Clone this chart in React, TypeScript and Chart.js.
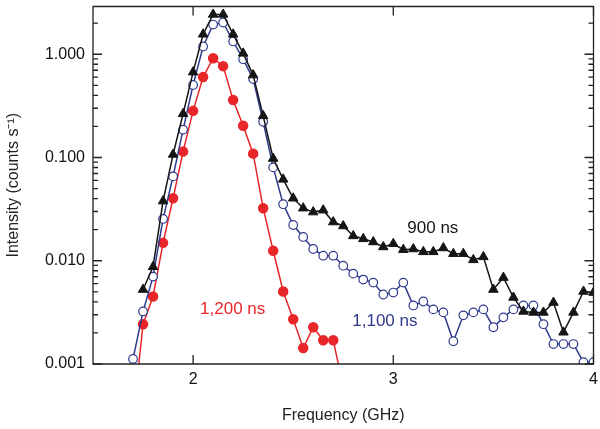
import React, { useEffect, useRef } from "react";
import { Chart, registerables } from "chart.js";
Chart.register(...registerables);

const freq = [1.70,1.75,1.80,1.85,1.90,1.95,2.00,2.05,2.10,2.15,2.20,2.25,2.30,2.35,2.40,2.45,2.50,2.55,2.60,2.65,2.70,2.75,2.80,2.85,2.90,2.95,3.00,3.05,3.10,3.15,3.20,3.25,3.30,3.35,3.40,3.45,3.50,3.55,3.60,3.65,3.70,3.75,3.80,3.85,3.90,3.95,4.00];
const ns900 = [null,0.00526,0.00875,0.0378,0.107,0.265,0.671,1.56,2.43,2.43,1.56,1.02,0.628,0.253,0.0977,0.0614,0.0403,0.0323,0.0296,0.0309,0.0237,0.0217,0.0174,0.0163,0.0152,0.0136,0.0146,0.0128,0.0130,0.0122,0.0122,0.0133,0.0117,0.0117,0.0102,0.0109,0.00526,0.00687,0.00441,0.00323,0.00316,0.00316,0.00394,0.00203,0.00316,0.00504,0.00492];
const ns1100 = [0.00112,0.00323,0.00702,0.0254,0.0656,0.186,0.504,1.19,1.94,2.03,1.33,0.895,0.575,0.222,0.0802,0.0353,0.0222,0.0170,0.0130,0.0112,0.0112,0.00895,0.00750,0.00657,0.00614,0.00471,0.00492,0.00614,0.00369,0.00403,0.00338,0.00316,0.00166,0.00296,0.00316,0.00338,0.00227,0.00283,0.00338,0.00369,0.00369,0.00243,0.00156,0.00156,0.00156,0.00104,0.00104];
const ns1200 = [0.0003,0.00243,0.00451,0.0149,0.0403,0.114,0.283,0.601,0.915,0.767,0.361,0.203,0.109,0.0323,0.0125,0.00504,0.00271,0.00143,0.00227,0.00170,0.00170,0.0006];
const yMajor = [0.001, 0.01, 0.1, 1];
const yLabels = ["0.001", "0.010", "0.100", "1.000"];
const xMajor = [2, 3, 4];

const FONT = "'Liberation Sans', Arial, sans-serif";
const BLACK = "#151515", BLUE = "#2e3a8c", RED = "#e8262a";

const pts = (vals: (number | null)[]) =>
  vals.map((v, i) => ({ x: freq[i], y: v })).filter((p) => p.y !== null);

export default function App() {
  const ref = useRef<HTMLCanvasElement>(null);
  useEffect(() => {
    document.body.style.margin = "0";
    const ticksPlugin = {
      id: "ticksIn",
      afterDatasetsDraw(chart: any) {
        const { ctx, chartArea: a, scales } = chart;
        const y = scales.y, x = scales.x;
        ctx.save();
        ctx.setLineDash([]);
        ctx.globalAlpha = 1;
        ctx.strokeStyle = "#222";
        ctx.lineWidth = 1.3;
        ctx.beginPath();
        ctx.rect(a.left, a.top, a.right - a.left, a.bottom - a.top);
        ctx.stroke();
        ctx.beginPath();
        for (let d = -3; d <= 0; d++) {
          for (let m = 1; m <= 9; m++) {
            const v = m * Math.pow(10, d);
            if (v > y.max) continue;
            const py = y.getPixelForValue(v);
            const L = m === 1 ? 9 : 5;
            ctx.moveTo(a.left, py); ctx.lineTo(a.left + L, py);
            ctx.moveTo(a.right, py); ctx.lineTo(a.right - L, py);
          }
        }
        for (const v of xMajor) {
          const px = x.getPixelForValue(v);
          ctx.moveTo(px, a.bottom); ctx.lineTo(px, a.bottom - 9);
          ctx.moveTo(px, a.top); ctx.lineTo(px, a.top + 9);
        }
        ctx.stroke();
        ctx.font = `17px ${FONT}`;
        ctx.textBaseline = "middle";
        ctx.textAlign = "left";
        const lab = (t: string, c: string, fx: number, fy: number) => {
          ctx.fillStyle = c;
          ctx.fillText(t, x.getPixelForValue(fx), y.getPixelForValue(fy));
        };
        lab("900 ns", BLACK, 3.07, 0.0205);
        lab("1,100 ns", BLUE, 2.795, 0.00259);
        lab("1,200 ns", RED, 2.035, 0.0034);
        ctx.restore();
      },
    };
    const chart = new Chart(ref.current!, {
      type: "line",
      data: {
        datasets: [
          { data: pts(ns900) as any, borderColor: BLACK, backgroundColor: BLACK, pointStyle: "triangle", pointRadius: 5.5, borderWidth: 1.5, pointBorderWidth: 1 },
          { data: pts(ns1100) as any, borderColor: BLUE, backgroundColor: "#fff", pointStyle: "circle", pointRadius: 4.3, borderWidth: 1.5, pointBorderWidth: 1.2 },
          { data: pts(ns1200) as any, borderColor: RED, backgroundColor: RED, pointStyle: "circle", pointRadius: 4.5, borderWidth: 1.5 },
        ],
      },
      options: {
        animation: false,
        responsive: false,
        layout: { padding: { top: 5, right: 5, left: 0, bottom: 0 } },
        plugins: { legend: { display: false }, tooltip: { enabled: false } },
        scales: {
          x: {
            type: "linear", min: 1.5, max: 4.0,
            afterBuildTicks: (s: any) => { s.ticks = xMajor.map((v) => ({ value: v })); },
            afterFit: (s: any) => { s.height = 65; s.paddingLeft = 0; s.paddingRight = 0; },
            grid: { display: false, drawTicks: false },
            border: { display: false },
            ticks: { color: "#111", font: { size: 16, family: FONT }, padding: 6, callback: (v: any) => String(v) },
            title: { display: true, text: "Frequency (GHz)", color: "#222", font: { size: 16, family: FONT }, padding: { top: 2 } },
          },
          y: {
            type: "logarithmic", min: 0.001, max: 2.9,
            afterBuildTicks: (s: any) => { s.ticks = yMajor.map((v) => ({ value: v })); },
            afterFit: (s: any) => { s.width = 93; s.paddingTop = 0; s.paddingBottom = 0; },
            grid: { display: false, drawTicks: false },
            border: { display: false },
            ticks: { color: "#111", font: { size: 16, family: FONT }, padding: 8, callback: (v: any) => yLabels[yMajor.indexOf(v)] ?? "" },
            title: { display: true, text: "Intensity (counts s⁻¹)", color: "#222", font: { size: 16, family: FONT }, padding: { bottom: 4 } },
          },
        },
      } as any,
      plugins: [ticksPlugin],
    });
    return () => chart.destroy();
  }, []);
  return (
    <div style={{ position: "fixed", left: 0, top: 0, width: 600, height: 429, background: "#fff" }}>
      <canvas ref={ref} width={600} height={429} style={{ width: 600, height: 429 }} />
    </div>
  );
}
